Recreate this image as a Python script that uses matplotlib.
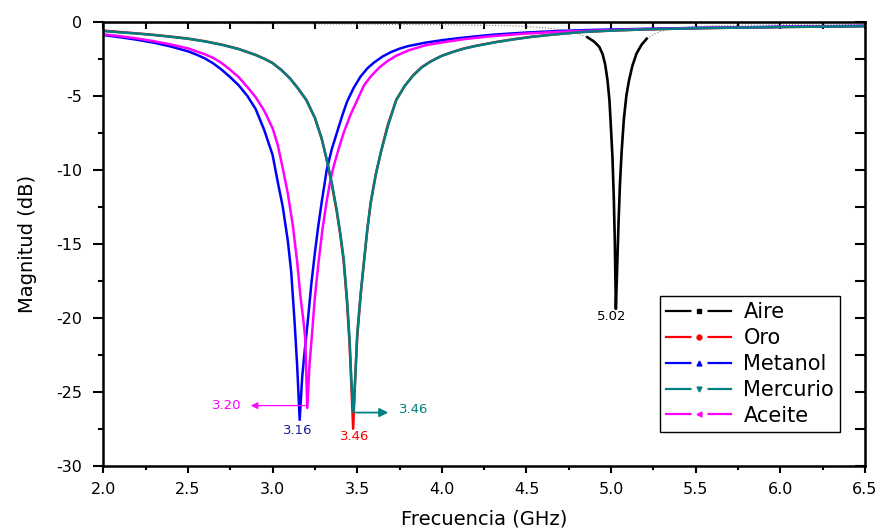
import numpy as np
import matplotlib
matplotlib.use("Agg")
import matplotlib.pyplot as plt
from matplotlib.lines import Line2D
from matplotlib.legend_handler import HandlerTuple

plt.rcParams['font.family'] = ['DejaVu Sans']
plt.rcParams['axes.unicode_minus'] = False

# frequency (GHz) / magnitude (dB)
f_aire = [2.0, 3.0, 4.0, 4.4, 4.55, 4.65, 4.71, 4.76, 4.81, 4.86, 4.9, 4.93, 4.95, 4.965,
          4.978, 4.99, 5.0, 5.008, 5.016, 5.022, 5.028, 5.036, 5.044, 5.052, 5.062, 5.075,
          5.09, 5.105, 5.125, 5.15, 5.18, 5.21, 5.25, 5.29, 5.35, 5.45, 5.6, 6.0, 6.5]
db_aire = [-0.1, -0.13, -0.2, -0.27, -0.36, -0.46, -0.56, -0.68, -0.84, -1.05, -1.35, -1.7,
           -2.2, -2.9, -3.9, -5.3, -7.4, -9.2, -12.0, -15.0, -19.4, -16.5, -13.5, -11.0, -8.8,
           -6.6, -5.0, -4.0, -3.0, -2.15, -1.55, -1.15, -0.86, -0.66, -0.5, -0.36, -0.27,
           -0.2, -0.2]

f_oro = [2.0, 2.1, 2.2, 2.3, 2.4, 2.5, 2.6, 2.7, 2.8, 2.9, 2.95, 3.0, 3.05, 3.1, 3.15, 3.2,
         3.25, 3.29, 3.32, 3.35, 3.38, 3.40, 3.42, 3.44, 3.455, 3.467, 3.476, 3.486, 3.50,
         3.52, 3.54, 3.56, 3.58, 3.61, 3.64, 3.68, 3.73, 3.78, 3.83, 3.88, 3.93, 4.0, 4.07,
         4.13, 4.2, 4.32, 4.42, 4.52, 4.65, 4.82, 5.0, 5.2, 5.5, 6.0, 6.5]
db_oro = [-0.6, -0.7, -0.79, -0.89, -1.01, -1.14, -1.32, -1.55, -1.84, -2.24, -2.49, -2.79,
          -3.24, -3.79, -4.5, -5.3, -6.5, -7.9, -9.35, -11.0, -12.9, -14.4, -16.2, -19.0,
          -21.8, -25.0, -27.5, -24.5, -21.3, -18.5, -16.2, -14.0, -12.2, -10.3, -8.8, -7.0,
          -5.3, -4.35, -3.62, -3.08, -2.7, -2.3, -2.02, -1.81, -1.63, -1.37, -1.19, -1.03,
          -0.87, -0.7, -0.6, -0.52, -0.44, -0.36, -0.3]

f_metanol = [2.0, 2.1, 2.2, 2.3, 2.4, 2.5, 2.55, 2.6, 2.65, 2.7, 2.75, 2.8, 2.85, 2.9, 2.95,
             3.0, 3.03, 3.06, 3.09, 3.11, 3.13, 3.145, 3.16, 3.175, 3.19, 3.21, 3.23, 3.25,
             3.27, 3.29, 3.32, 3.35, 3.38, 3.41, 3.44, 3.48, 3.52, 3.56, 3.6, 3.65, 3.7,
             3.75, 3.8, 3.9, 4.0, 4.1, 4.2, 4.3, 4.4, 4.5, 4.7, 4.9, 5.2, 5.5, 6.0, 6.5]
db_metanol = [-0.9, -1.05, -1.22, -1.42, -1.68, -2.0, -2.22, -2.48, -2.82, -3.25, -3.75,
              -4.3, -5.0, -5.9, -7.3, -9.0, -10.8, -12.5, -14.8, -16.9, -20.3, -23.2, -26.9,
              -24.0, -22.2, -20.0, -17.6, -15.6, -13.8, -12.2, -10.0, -8.6, -7.5, -6.4, -5.4,
              -4.45, -3.7, -3.15, -2.75, -2.35, -2.05, -1.82, -1.65, -1.42, -1.25, -1.11,
              -0.99, -0.88, -0.8, -0.73, -0.62, -0.55, -0.48, -0.42, -0.34, -0.28]

f_mercurio = [2.0, 2.1, 2.2, 2.3, 2.4, 2.5, 2.6, 2.7, 2.8, 2.9, 2.95, 3.0, 3.05, 3.1, 3.15,
              3.2, 3.25, 3.29, 3.32, 3.35, 3.38, 3.40, 3.42, 3.44, 3.455, 3.467, 3.478, 3.488,
              3.50, 3.52, 3.54, 3.56, 3.58, 3.61, 3.64, 3.68, 3.73, 3.78, 3.83, 3.88, 3.93,
              4.0, 4.07, 4.13, 4.2, 4.32, 4.42, 4.52, 4.65, 4.82, 5.0, 5.2, 5.5, 6.0, 6.5]
db_mercurio = [-0.63, -0.72, -0.8, -0.9, -1.02, -1.15, -1.33, -1.56, -1.85, -2.25, -2.5,
               -2.8, -3.25, -3.8, -4.5, -5.3, -6.5, -7.9, -9.3, -10.9, -12.8, -14.3, -16.0,
               -18.8, -21.5, -24.6, -26.4, -24.2, -21.1, -18.4, -16.2, -14.0, -12.2, -10.3,
               -8.8, -7.1, -5.3, -4.35, -3.65, -3.1, -2.72, -2.3, -2.03, -1.82, -1.64, -1.38,
               -1.2, -1.04, -0.88, -0.7, -0.6, -0.52, -0.44, -0.36, -0.3]

f_aceite = [2.0, 2.1, 2.2, 2.3, 2.4, 2.5, 2.6, 2.65, 2.7, 2.75, 2.8, 2.85, 2.9, 2.95, 3.0,
            3.03, 3.06, 3.09, 3.12, 3.145, 3.165, 3.18, 3.193, 3.205, 3.218, 3.233, 3.25,
            3.272, 3.295, 3.32, 3.34, 3.36, 3.39, 3.42, 3.46, 3.5, 3.54, 3.58, 3.63, 3.68,
            3.73, 3.8, 3.9, 4.0, 4.13, 4.3, 4.5, 4.7, 4.9, 5.2, 5.5, 6.0, 6.5]
db_aceite = [-0.85, -0.98, -1.13, -1.32, -1.54, -1.8, -2.2, -2.45, -2.8, -3.25, -3.75, -4.4,
             -5.1, -6.0, -7.2, -8.3, -9.9, -11.6, -13.8, -16.2, -18.6, -20.0, -21.4, -26.1,
             -23.2, -21.1, -18.6, -16.2, -14.0, -12.1, -10.8, -9.8, -8.6, -7.5, -6.3, -5.3,
             -4.3, -3.7, -3.1, -2.65, -2.3, -1.95, -1.6, -1.4, -1.18, -0.97, -0.8, -0.68,
             -0.6, -0.5, -0.43, -0.35, -0.28]

labels = ['Aire', 'Oro', 'Metanol', 'Mercurio', 'Aceite']
colors = ['black', '#ff0000', '#0000ff', '#008080', '#ff00ff']
markers = ['s', 'o', '^', 'v', '<']

fig = plt.figure(figsize=(8.8, 5.31), dpi=100)
ax = fig.add_axes([0.1174, 0.123, 0.8656, 0.8361])

# Aire: faint dotted baseline, solid black through the dip
fa = np.array(f_aire)
da = np.array(db_aire)
ax.plot(fa, da, color='0.5', lw=0.8, ls=':')
dip = da < -0.9
ax.plot(fa[dip], da[dip], color=colors[0], lw=1.9)

ax.plot(f_oro, db_oro, color=colors[1], lw=1.8)
ax.plot(f_metanol, db_metanol, color=colors[2], lw=1.8)
ax.plot(f_aceite, db_aceite, color=colors[4], lw=1.8)
ax.plot(f_mercurio, db_mercurio, color=colors[3], lw=1.8)

# peak labels
ax.annotate('', xy=(2.855, -25.94), xytext=(3.21, -25.94),
            arrowprops=dict(arrowstyle='-|>', color='#ff00ff', lw=0.9, mutation_scale=10))
ax.text(2.731, -25.94, '3.20', color='#ff00ff', fontsize=9.5, ha='center', va='center')
ax.text(3.151, -27.63, '3.16', color='#1c1c9c', fontsize=9.5, ha='center', va='center')
ax.text(3.487, -28.04, '3.46', color='#ff0000', fontsize=9.5, ha='center', va='center')
ax.annotate('', xy=(3.70, -26.41), xytext=(3.476, -26.41),
            arrowprops=dict(arrowstyle='-|>', color='#008080', lw=1.3, mutation_scale=13))
ax.text(3.836, -26.21, '3.46', color='#008080', fontsize=9.5, ha='center', va='center')
ax.text(5.006, -19.9, '5.02', color='black', fontsize=9.5, ha='center', va='center')

ax.set_xlim(2.0, 6.5)
ax.set_ylim(-30, 0)
xt = np.arange(2.0, 6.51, 0.5)
yt = np.arange(-30, 1, 5)
ax.set_xticks(xt)
ax.set_xticks(np.arange(2.25, 6.5, 0.5), minor=True)
ax.set_yticks(yt)
ax.set_yticks(np.arange(-27.5, 0, 5), minor=True)
ax.set_xticklabels(['%.1f' % v for v in xt])
ax.set_yticklabels(['%d' % v for v in yt])

for s in ax.spines.values():
    s.set_linewidth(1.8)

ax.tick_params(which='both', direction='out', width=1.5, labelsize=11.5,
               top=False, right=False)
ax.tick_params(axis='x', which='major', length=5, pad=7)
ax.tick_params(axis='x', which='minor', length=3)
ax.tick_params(axis='y', which='major', length=7, pad=8)
ax.tick_params(axis='y', which='minor', length=3.6)

# mirrored inward ticks on top and right
ax2 = ax.secondary_xaxis('top')
ax2.set_xticks(np.arange(2.0, 6.51, 0.25))
ax2.tick_params(direction='in', length=5, width=1.5, labeltop=False)
ax3 = ax.secondary_yaxis('right')
ax3.set_yticks(np.arange(-30, 0.1, 2.5))
ax3.tick_params(direction='in', length=7.5, width=1.5, labelright=False)

ax.set_xlabel('Frecuencia (GHz)', fontsize=14, labelpad=9)
ax.set_ylabel('Magnitud (dB)', fontsize=14, labelpad=14)

# legend entries: line, white gap, small marker in the middle
handles = []
for c, m in zip(colors, markers):
    line = Line2D([], [], color=c, lw=1.6)
    gap = Line2D([], [], ls='none', marker='s', markersize=11,
                 markerfacecolor='white', markeredgecolor='none')
    mark = Line2D([], [], ls='none', marker=m, markersize=3.5, color=c)
    handles.append((line, gap, mark))
leg = ax.legend(handles, labels, loc='upper left', bbox_to_anchor=(0.731, 0.382),
                borderaxespad=0, fontsize=15, handlelength=3.1, handletextpad=0.6,
                labelspacing=0.28, borderpad=0.3, numpoints=1, fancybox=False,
                framealpha=1, edgecolor='black',
                handler_map={tuple: HandlerTuple(ndivide=1)})
leg.get_frame().set_linewidth(1.0)

fig.savefig('out.png', dpi=100)
